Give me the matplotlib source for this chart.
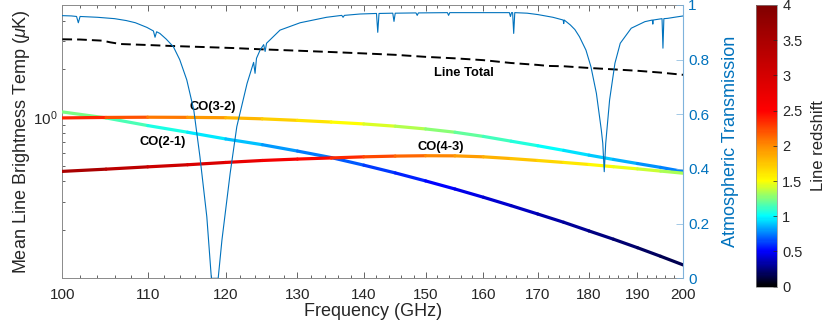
import matplotlib
matplotlib.use('Agg')
import matplotlib.pyplot as plt
import numpy as np
from matplotlib.collections import LineCollection
from matplotlib.colors import LinearSegmentedColormap, Normalize
from matplotlib.cm import ScalarMappable
from matplotlib.ticker import FixedLocator, NullFormatter, FuncFormatter

plt.rcParams['font.family'] = ['Liberation Sans', 'DejaVu Sans']
plt.rcParams['mathtext.fontset'] = 'custom'
plt.rcParams['mathtext.rm'] = 'Liberation Sans'
plt.rcParams['mathtext.it'] = 'Liberation Sans:italic'

# ── Dados ─────────────────────────────────────────────────────────────────
NU_CO10 = 115.271  # GHz, frequência de repouso CO(1-0)

FREQ = [100, 105, 110, 115, 120, 125, 130, 135, 140, 145, 150, 155,
        160, 165, 170, 175, 180, 185, 190, 195, 200]
t_co21 = [1.082, 0.993, 0.890, 0.809, 0.735, 0.677, 0.618, 0.563, 0.505,
          0.452, 0.403, 0.359, 0.319, 0.283, 0.251, 0.223, 0.197, 0.175,
          0.155, 0.137, 0.121]
t_co32 = [0.993, 1.0, 1.003, 1.001, 0.996, 0.980, 0.959, 0.936, 0.911,
          0.882, 0.848, 0.809, 0.762, 0.712, 0.667, 0.624, 0.583, 0.548,
          0.517, 0.489, 0.461]
t_co43 = [0.462, 0.477, 0.493, 0.508, 0.525, 0.540, 0.551, 0.560, 0.569,
          0.575, 0.578, 0.577, 0.569, 0.555, 0.540, 0.525, 0.510, 0.494,
          0.479, 0.464, 0.450]

f_total = [100, 102, 104.6, 105.5, 106.7, 110, 113, 117, 121, 125, 130,
           135, 140, 145, 150, 155, 160, 165, 170, 172, 175, 180, 185,
           190, 195, 200]
t_total = [3.06, 3.05, 3.0, 2.93, 2.86, 2.82, 2.78, 2.74, 2.70, 2.65, 2.60,
           2.55, 2.50, 2.45, 2.38, 2.33, 2.27, 2.18, 2.12, 2.09, 2.08, 2.03,
           1.99, 1.95, 1.90, 1.84]

f_atm = [100.0, 101.0, 101.6, 101.8, 102.0, 104.0, 106.0, 107.4, 108.5,
         109.9, 110.7, 110.9, 111.1, 111.5, 112.3, 113.2, 114.0, 114.9,
         115.8, 116.6, 117.5, 118.1, 119.0, 119.5, 120.6, 121.5, 122.9,
         123.8, 124.0, 124.2, 124.7, 125.2, 125.4, 125.6, 127.5, 130.4,
         134.3, 136.6, 136.8, 137.0, 139.4, 142.0, 142.2, 142.4, 144.6,
         144.8, 145.0, 148.4, 148.6, 148.8, 153.7, 153.9, 154.1, 160.0,
         164.7, 164.9, 165.1, 165.3, 165.5, 165.7, 168.0, 170.0, 172.9,
         174.9, 175.0, 175.1, 176.3, 177.2, 178.1, 179.4, 180.4, 181.5,
         182.5, 182.8, 183.1, 183.4, 184.2, 185.3, 186.4, 188.7, 191.6,
         193.2, 193.3, 193.4, 195.3, 195.5, 195.7, 196.5, 198.0, 200.0]
t_atm = [0.961, 0.960, 0.958, 0.935, 0.958, 0.955, 0.950, 0.943, 0.935,
         0.918, 0.905, 0.882, 0.902, 0.896, 0.875, 0.847, 0.800, 0.726,
         0.616, 0.445, 0.225, 0.0, 0.0, 0.14, 0.384, 0.555, 0.713,
         0.79, 0.75, 0.805, 0.835, 0.855, 0.83, 0.86, 0.908, 0.935,
         0.955, 0.962, 0.955, 0.962, 0.967, 0.969, 0.90, 0.969, 0.970,
         0.94, 0.970, 0.971, 0.962, 0.971, 0.972, 0.962, 0.972, 0.972,
         0.972, 0.958, 0.972, 0.972, 0.896, 0.972, 0.970, 0.965, 0.955,
         0.945, 0.932, 0.945, 0.927, 0.91, 0.884, 0.835, 0.774, 0.677,
         0.543, 0.494, 0.39, 0.494, 0.653, 0.787, 0.860, 0.915, 0.939,
         0.945, 0.93, 0.945, 0.95, 0.842, 0.95, 0.951, 0.955, 0.960]

LINHAS = [(t_co21, 2), (t_co32, 3), (t_co43, 4)]

# ── Colormap tipo jet com preto no início ────────────────────────────────
cmap = LinearSegmentedColormap.from_list('zjet', [
    (0.0, (0, 0, 0)), (0.125, (0, 0, 1)), (0.25, (0, 1, 1)),
    (0.3125, (0.5, 1, 0.5)), (0.375, (1, 1, 0)), (0.5, (1, 0.55, 0)),
    (0.625, (1, 0, 0)), (1.0, (0.5, 0, 0))], N=256)
norm = Normalize(0, 4)

AX_COR = '#262626'
SPINE = '#8a8a8a'
AZUL = '#0072BD'

fig = plt.figure(figsize=(8.3, 3.26), dpi=100)
ax = fig.add_axes([0.0751, 0.1463, 0.7482, 0.8384])
ax.set_xscale('log')
ax.set_yscale('log')

f = np.asarray(FREQ, float)
for t, J in LINHAS:
    pts = np.column_stack([f, np.asarray(t, float)])
    segs = np.stack([pts[:-1], pts[1:]], axis=1)
    z = J * NU_CO10 / np.sqrt(f[:-1] * f[1:]) - 1
    lc = LineCollection(segs, colors=cmap(norm(z)), linewidths=2.3,
                        capstyle='round', joinstyle='round', zorder=3)
    ax.add_collection(lc)

ax.plot(f_total, t_total, color='black', lw=1.4, ls=(0, (5, 2.6)), zorder=4)

txt = dict(fontsize=9.3, fontweight='bold', ha='center', va='center')
ax.text(118.3, 1.157, 'CO(3-2)', **txt)
ax.text(111.8, 0.707, 'CO(2-1)', **txt)
ax.text(152.5, 0.658, 'CO(4-3)', **txt)
ax.text(156.6, 1.883, 'Line Total', **txt)

ax.set_xlim(100, 200)
ax.set_ylim(0.1, 5)
ax.xaxis.set_major_locator(FixedLocator(np.arange(100, 201, 10)))
ax.xaxis.set_major_formatter(FuncFormatter(lambda v, p: f'{v:g}'))
ax.xaxis.set_minor_locator(FixedLocator([v for v in range(102, 200, 2) if v % 10]))
ax.xaxis.set_minor_formatter(NullFormatter())
ax.yaxis.set_major_locator(FixedLocator([1]))
ax.yaxis.set_major_formatter(FuncFormatter(lambda v, p: r'$10^0$'))
ax.yaxis.set_minor_locator(FixedLocator([0.2, 0.3, 0.4, 0.5, 0.6, 0.7, 0.8, 0.9, 2, 3, 4]))
ax.yaxis.set_minor_formatter(NullFormatter())
ax.tick_params(which='both', direction='in', top=True, right=False,
               colors=AX_COR, labelsize=11, width=0.5)
ax.tick_params(which='major', length=4)
ax.tick_params(which='minor', length=2.5)
ax.tick_params(axis='x', pad=7)
for s in ax.spines.values():
    s.set_color(SPINE)
    s.set_linewidth(0.7)
ax.set_xlabel('Frequency (GHz)', fontsize=13, color=AX_COR, labelpad=1)
ax.set_ylabel(r'Mean Line Brightness Temp ($\mu$K)', fontsize=13,
              color=AX_COR, labelpad=0.5)

# ── Eixo direito: transmissão atmosférica ────────────────────────────────
ax2 = ax.twinx()
ax2.plot(f_atm, t_atm, color=AZUL, lw=0.8, zorder=5)
ax2.set_ylim(0, 1)
ax2.set_yticks([0, 0.2, 0.4, 0.6, 0.8, 1.0])
ax2.yaxis.set_major_formatter(FuncFormatter(lambda v, p: f'{v:g}'))
ax2.tick_params(axis='y', direction='in', length=5, width=0.5,
                color='#7fb3dc', labelcolor=AZUL, labelsize=11)
ax2.spines['right'].set_color('#7fb3dc')
ax2.spines['right'].set_linewidth(0.8)
for k in ('left', 'top', 'bottom'):
    ax2.spines[k].set_visible(False)
ax2.set_ylabel('Atmospheric Transmission', fontsize=13, color=AZUL, labelpad=9)

# ── Colorbar ──────────────────────────────────────────────────────────────
cax = fig.add_axes([0.9108, 0.1206, 0.0257, 0.8641])
cb = fig.colorbar(ScalarMappable(norm=norm, cmap=cmap), cax=cax,
                  ticks=np.arange(0, 4.01, 0.5))
cb.ax.yaxis.set_major_formatter(FuncFormatter(lambda v, p: f'{v:g}'))
cb.ax.tick_params(direction='in', length=3, width=0.5, colors=AX_COR,
                  labelsize=10.5)
cb.outline.set_edgecolor(SPINE)
cb.outline.set_linewidth(0.5)
cb.set_label('Line redshift', fontsize=12, color=AX_COR, labelpad=6)

fig.savefig('out.png', dpi=100)
